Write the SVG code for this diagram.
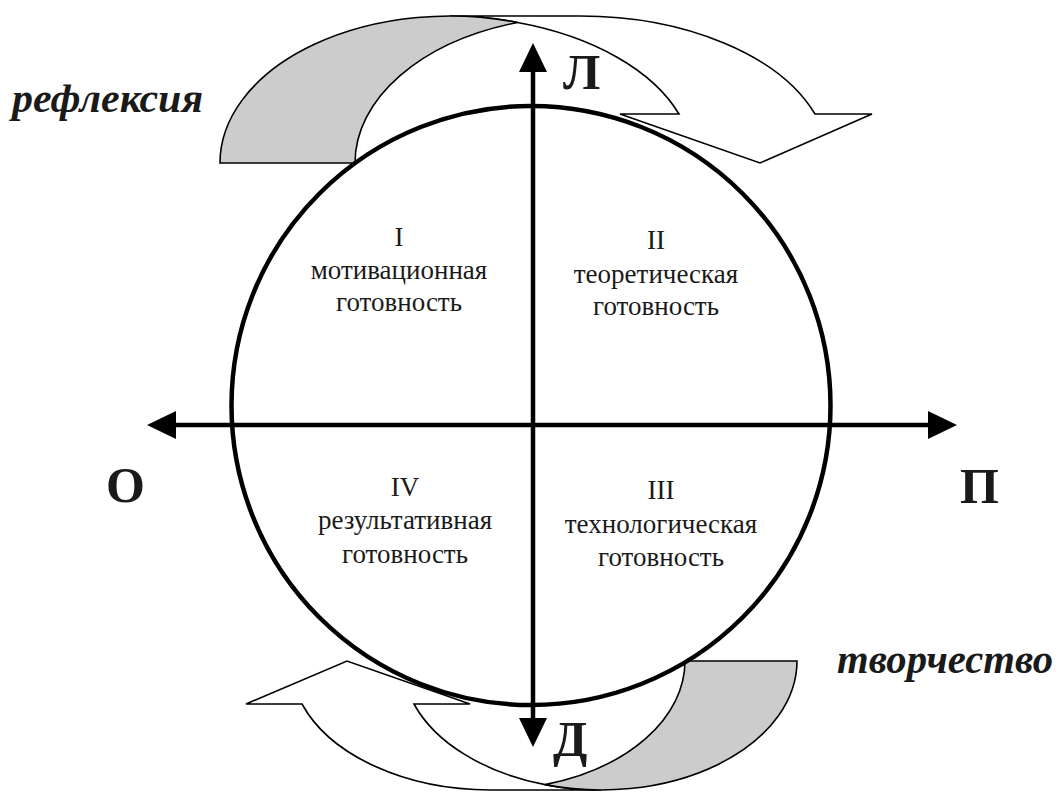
<svg xmlns="http://www.w3.org/2000/svg" width="1058" height="792" viewBox="0 0 1058 792">
  <defs>
    <marker id="axis-head" markerUnits="userSpaceOnUse" markerWidth="30" markerHeight="28" refX="0" refY="14" orient="auto-start-reverse" viewBox="0 0 30 28">
      <path d="M0,0 L29,14 L0,28 Z" fill="#000"/>
    </marker>
    <style>
      .band { fill: #fff; stroke: #000; stroke-width: 1.6; stroke-linejoin: miter; }
      .back { fill: #cccccc; stroke: #000; stroke-width: 1.6; }
      .ring { fill: none; stroke: #000; stroke-width: 4.5; }
      .axis { stroke: #000; stroke-width: 4.5; fill: none; }
      .q { font-family: "Liberation Serif", "DejaVu Serif", "Times New Roman", serif; font-size: 27px; fill: #1a1a1a; text-anchor: middle; }
      .pole { font-family: "Liberation Serif", "DejaVu Serif", "Times New Roman", serif; font-size: 50px; font-weight: bold; fill: #1a1a1a; }
      .cap { font-family: "Liberation Serif", "DejaVu Serif", "Times New Roman", serif; font-size: 40px; font-weight: bold; font-style: italic; fill: #1a1a1a; }
    </style>
  </defs>
  <rect width="1058" height="792" fill="#fff"/>

  <!-- upper curved arrow: reflection -->
  <g id="arrow-reflection">
    <path class="band" d="M517.5,22.5 A230,147 0 0 0 450,16 L580,16 A249.2,147 0 0 1 815,114 L872,114 L760,163 L620,114 L679,114 A249.2,147 0 0 0 517.5,22.5 Z"/>
    <path class="back" d="M220,163 A230,147 0 0 1 517.5,22.5 A230,147 0 0 0 355,163 Z"/>
  </g>

  <!-- lower curved arrow: creativity -->
  <g id="arrow-creativity">
    <path class="band" d="M545,784.6 A196,129 0 0 0 601,790 L490.2,790 A199.6,129 0 0 1 302,704 L246,704 L347,661 L470,704 L414,704 A199.6,129 0 0 0 545,784.6 Z"/>
    <path class="back" d="M797,661 A196,129 0 0 1 545,784.6 A196,129 0 0 0 685,661 Z"/>
  </g>

  <!-- readiness circle -->
  <g id="circle">
    <circle class="ring" cx="531" cy="405.5" r="299.5"/>
  </g>

  <!-- coordinate axes -->
  <g id="connectors">
    <line class="axis" x1="176" y1="425" x2="928" y2="425" marker-start="url(#axis-head)" marker-end="url(#axis-head)"/>
    <line class="axis" x1="533" y1="718" x2="533" y2="72" marker-start="url(#axis-head)" marker-end="url(#axis-head)"/>
  </g>

  <!-- quadrants -->
  <g id="q1">
    <text class="q" x="399" y="246">I</text>
    <text class="q" x="399" y="279">мотивационная</text>
    <text class="q" x="399" y="311">готовность</text>
  </g>
  <g id="q2">
    <text class="q" x="656" y="249">II</text>
    <text class="q" x="656" y="283">теоретическая</text>
    <text class="q" x="656" y="315">готовность</text>
  </g>
  <g id="q3">
    <text class="q" x="661" y="499">III</text>
    <text class="q" x="661" y="533">технологическая</text>
    <text class="q" x="661" y="566">готовность</text>
  </g>
  <g id="q4">
    <text class="q" x="405" y="496">IV</text>
    <text class="q" x="405" y="529">результативная</text>
    <text class="q" x="405" y="563">готовность</text>
  </g>

  <!-- pole letters -->
  <g id="pole-L"><text class="pole" x="563" y="89">Л</text></g>
  <g id="pole-D"><text class="pole" x="553" y="756">Д</text></g>
  <g id="pole-O"><text class="pole" x="106" y="502">О</text></g>
  <g id="pole-P"><text class="pole" x="960" y="503">П</text></g>

  <!-- captions -->
  <g id="label-reflection"><text class="cap" x="12" y="112" textLength="191" lengthAdjust="spacingAndGlyphs">рефлексия</text></g>
  <g id="label-creativity"><text class="cap" x="837" y="673" textLength="216" lengthAdjust="spacingAndGlyphs">творчество</text></g>
</svg>
